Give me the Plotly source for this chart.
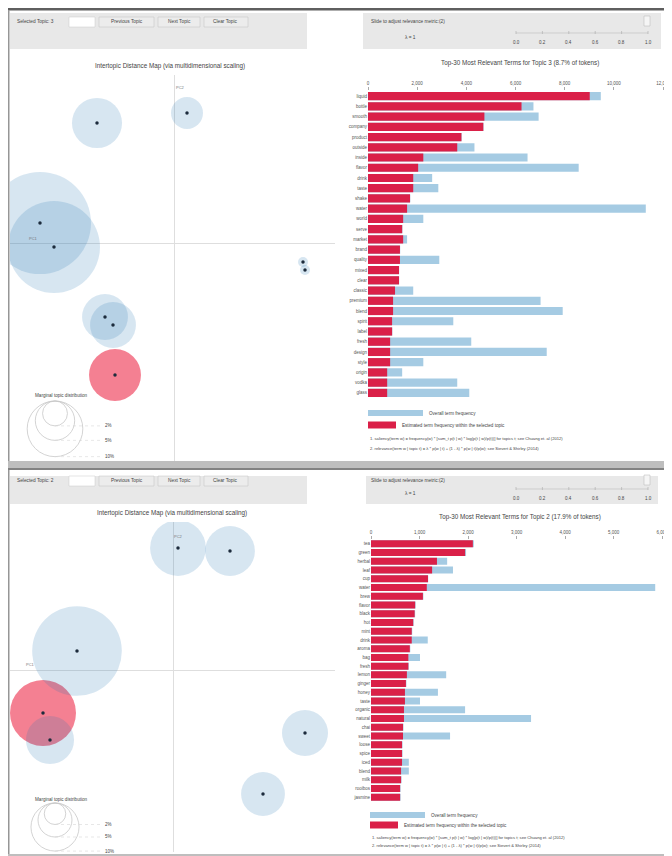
import plotly.graph_objects as go

# page is 672x856; the html body adds an 8px margin, so the figure is drawn 8px in
PAGE_W, PAGE_H = 672, 856
OFF = 8
W, H = PAGE_W - OFF, PAGE_H - OFF

# ---------------- data ----------------
top_terms = ["liquid", "bottle", "smooth", "company", "product", "outside", "inside", "flavor",
             "drink", "taste", "shake", "water", "world", "serve", "market", "brand", "quality",
             "mixed", "clear", "classic", "premium", "blend", "spirit", "label", "fresh", "design",
             "style", "origin", "vodka", "glass"]
top_topic_freq = [9020, 6245, 4735, 4690, 3800, 3630, 2250, 2040, 1840, 1840, 1710, 1590, 1430, 1390,
                  1430, 1300, 1300, 1260, 1260, 1100, 1020, 1020, 980, 980, 900, 900, 900, 780, 780, 780]
top_overall_freq = [9470, 6730, 6940, 4700, 3810, 4330, 6490, 8570, 2610, 2860, 1720, 11300, 2250, 1400,
                    1590, 1310, 2900, 1270, 1270, 1840, 7020, 7920, 3470, 990, 4200, 7270, 2250, 1390,
                    3630, 4120]
top_ticks = [0, 2000, 4000, 6000, 8000, 10000, 12000]

bot_terms = ["tea", "green", "herbal", "leaf", "cup", "water", "brew", "flavor", "black", "hot",
             "mint", "drink", "aroma", "bag", "fresh", "lemon", "ginger", "honey", "taste", "organic",
             "natural", "chai", "sweet", "loose", "spice", "iced", "blend", "milk", "rooibos", "jasmine"]
bot_topic_freq = [2100, 1940, 1360, 1260, 1175, 1150, 1070, 910, 900, 870, 840, 840, 800, 770, 770,
                  740, 720, 700, 700, 680, 680, 660, 660, 640, 640, 640, 620, 620, 600, 600]
bot_overall_freq = [2120, 1960, 1570, 1690, 1180, 5860, 1080, 920, 910, 880, 850, 1170, 810, 1010, 780,
                    1550, 730, 1380, 1010, 1940, 3300, 670, 1630, 650, 650, 780, 780, 630, 610, 610]
bot_ticks = [0, 1000, 2000, 3000, 4000, 5000, 6000]

# topic maps (PC1, PC2, share of tokens in %)
top_topics = [1, 2, 3, 4, 5, 6, 7, 8, 9]
top_pc1 = [-0.134, -0.120, -0.059, -0.077, -0.069, -0.061, 0.013, 0.129, 0.131]
top_pc2 = [0.020, -0.004, -0.132, 0.120, -0.074, -0.082, 0.130, -0.019, -0.027]
top_share = [33.6, 27.3, 8.7, 8.1, 6.8, 6.8, 3.3, 0.32, 0.32]
top_selected = 3

bot_topics = [1, 2, 3, 4, 5, 6, 7]
bot_pc1 = [-0.096, -0.130, 0.005, 0.057, -0.123, 0.132, 0.090]
bot_pc2 = [0.019, -0.043, 0.122, 0.119, -0.070, -0.063, -0.124]
bot_share = [33.0, 17.9, 12.8, 10.2, 9.5, 8.7, 7.9]
bot_selected = 2

legend_pcts = [2, 5, 10]
slider_ticks = ["0.0", "0.2", "0.4", "0.6", "0.8", "1.0"]

# ---------------- helpers (page pixel -> paper) ----------------
def fx(px):
    return (px - OFF) / W

def fy(py):
    return 1 - (py - OFF) / H

FONT = "Liberation Sans, Arial, sans-serif"
TXT = "#444444"
BLUE_BAR = "rgb(165,203,227)"
RED_BAR = "rgb(218,32,72)"
BLUE_CIRCLE = "rgba(31,119,180,0.26)"
RED_CIRCLE = "rgb(240,74,100)"

fig = go.Figure()
annotations = []
shapes = []


def text(x, y, s, size=5, anchor="left", color=TXT):
    annotations.append(dict(x=fx(x), y=fy(y), xref="paper", yref="paper", text=s, showarrow=False,
                            xanchor=anchor, yanchor="middle", font=dict(size=size, color=color, family=FONT)))


def rect(x0, y0, x1, y1, fill, line=None, lw=0):
    shapes.append(dict(type="rect", xref="paper", yref="paper", x0=fx(x0), x1=fx(x1), y0=fy(y1), y1=fy(y0),
                       fillcolor=fill, line=dict(color=line or fill, width=lw), layer="above"))


def line(x0, y0, x1, y1, color, w=1, dash="solid"):
    shapes.append(dict(type="line", xref="paper", yref="paper", x0=fx(x0), x1=fx(x1), y0=fy(y0), y1=fy(y1),
                       line=dict(color=color, width=w, dash=dash), layer="above"))


def topic_map(n, pcs1, pcs2, share, topics, selected, k, xdom, ydom, xr, yr):
    xa, ya = ("x" if n == 1 else f"x{n}"), ("y" if n == 1 else f"y{n}")
    sel = [i for i, t in enumerate(topics) if t == selected]
    oth = [i for i, t in enumerate(topics) if t != selected]
    size = lambda i: 2 * k * share[i] ** 0.5
    fig.add_trace(go.Scatter(x=[pcs1[i] for i in sel], y=[pcs2[i] for i in sel], mode="markers",
                             marker=dict(size=[size(i) for i in sel], color=RED_CIRCLE, line=dict(width=0)),
                             xaxis=xa, yaxis=ya, showlegend=False, hoverinfo="skip"))
    fig.add_trace(go.Scatter(x=[pcs1[i] for i in oth], y=[pcs2[i] for i in oth], mode="markers",
                             marker=dict(size=[size(i) for i in oth], color=BLUE_CIRCLE, line=dict(width=0)),
                             xaxis=xa, yaxis=ya, showlegend=False, hoverinfo="skip"))
    fig.add_trace(go.Scatter(x=pcs1, y=pcs2, mode="markers",
                             marker=dict(size=3.5, color="#1c2b3c"),
                             xaxis=xa, yaxis=ya, showlegend=False, hoverinfo="skip"))
    ax = dict(domain=xdom, range=xr, anchor=ya, showgrid=False, showticklabels=False, zeroline=True,
              zerolinecolor="rgb(222,222,222)", zerolinewidth=1, showline=False, fixedrange=True,
              automargin=False)
    ay = dict(domain=ydom, range=yr, anchor=xa, showgrid=False, showticklabels=False, zeroline=True,
              zerolinecolor="rgb(222,222,222)", zerolinewidth=1, showline=False, fixedrange=True,
              automargin=False)
    return ax, ay


def bars(n, terms, topic_f, overall_f, ticks, xdom, ydom, xmax):
    xa, ya = f"x{n}", f"y{n}"
    fig.add_trace(go.Bar(x=overall_f, y=terms, orientation="h", marker=dict(color=BLUE_BAR, line=dict(width=0)),
                         xaxis=xa, yaxis=ya, showlegend=False, hoverinfo="skip"))
    fig.add_trace(go.Bar(x=topic_f, y=terms, orientation="h", marker=dict(color=RED_BAR, line=dict(width=0)),
                         xaxis=xa, yaxis=ya, showlegend=False, hoverinfo="skip"))
    ax = dict(domain=xdom, range=[0, xmax], anchor=ya, side="top", tickvals=ticks,
              ticktext=[f"{t:,}" for t in ticks], tickfont=dict(size=4.5, color="#555", family=FONT),
              ticks="outside", ticklen=3, tickcolor="#aaa", showgrid=False, zeroline=False,
              showline=False, fixedrange=True, automargin=False)
    ay = dict(domain=ydom, autorange="reversed", type="category", anchor=xa,
              tickfont=dict(size=4.5, color="#555", family=FONT),
              ticks="", showgrid=False, zeroline=False, showline=False, fixedrange=True, automargin=False)
    return ax, ay


# ---------------- top screenshot ----------------
ax1, ay1 = topic_map(1, top_pc1, top_pc2, top_share, top_topics, top_selected, 8.8,
                     [fx(10), fx(335)], [fy(462), fy(75)], [-0.164, 0.161], [-0.219, 0.168])
ax2, ay2 = bars(2, top_terms, top_topic_freq, top_overall_freq, top_ticks,
                [fx(368), fx(663)], [fy(398), fy(91)], 12000)

# ---------------- bottom screenshot ----------------
ax3, ay3 = topic_map(3, bot_pc1, bot_pc2, bot_share, bot_topics, bot_selected, 7.8,
                     [fx(10), fx(335)], [fy(852), fy(522)], [-0.163, 0.162], [-0.182, 0.148])
ax4, ay4 = bars(4, bot_terms, bot_topic_freq, bot_overall_freq, bot_ticks,
                [fx(371), fx(662)], [fy(801.5), fy(539.5)], 6000)

# ---------- chrome / controls ----------
def controls(y0, y1, yl, sel_topic, lam_y, tick_y, right_x0, right_x1):
    rect(10, y0, 307, y1, "rgb(232,232,232)")
    rect(right_x0, y0, right_x1, y1, "rgb(232,232,232)")
    text(15, yl, f"Selected Topic: {sel_topic}", 4.8)
    rect(69, yl - 5, 95, yl + 5, "white", "rgb(200,200,200)", 0.5)
    for label, a, b in [("Previous Topic", 99, 154), ("Next Topic", 158, 200), ("Clear Topic", 204, 248)]:
        rect(a, yl - 5, b, yl + 5, "rgb(236,236,236)", "rgb(195,195,195)", 0.5)
        text((a + b) / 2, yl, label, 4.8, "center")
    text(369, yl, "Slide to adjust relevance metric:(2)", 4.8)
    text(410, lam_y, "λ = 1", 4.8, "center")
    line(516, lam_y - 5, 648, lam_y - 5, "rgb(205,205,205)", 1)
    for i, t in enumerate(slider_ticks):
        xx = 516 + i * 26.4
        line(xx, lam_y - 7, xx, lam_y - 4, "rgb(170,170,170)", 0.6)
        text(xx, tick_y, t, 4.5, "center")
    rect(644, yl - 6, 650, yl + 4, "rgb(245,245,245)", "rgb(180,180,180)", 0.5)


controls(13, 49, 22, 3, 38, 43, 363, 661)
controls(476, 504, 481, 2, 494, 498, 366, 658)

# titles
text(170, 66, "Intertopic Distance Map (via multidimensional scaling)", 6.3, "center")
text(520, 63, "Top-30 Most Relevant Terms for Topic 3 (8.7% of tokens)", 6.3, "center")
text(172, 513, "Intertopic Distance Map (via multidimensional scaling)", 6.3, "center")
text(520, 517, "Top-30 Most Relevant Terms for Topic 2 (17.9% of tokens)", 6.3, "center")

# PC labels
text(180, 87, "PC2", 4, "center", "#777")
text(33, 238, "PC1", 4, "center", "#777")
text(178, 536, "PC2", 4, "center", "#777")
text(30, 664, "PC1", 4, "center", "#777")

# marginal topic distribution legends
def marginal(top_y, k, title_y):
    text(33, title_y, "Marginal topic distribution", 4.6)
    cx = 55
    for p in legend_pcts:
        r = k * p ** 0.5
        shapes.append(dict(type="circle", xref="paper", yref="paper", x0=fx(cx - r), x1=fx(cx + r),
                           y0=fy(top_y + 2 * r), y1=fy(top_y), line=dict(color="rgb(200,200,200)", width=0.8),
                           fillcolor="rgba(0,0,0,0)", layer="above"))
        line(cx, top_y + 2 * r, 100, top_y + 2 * r, "rgb(215,215,215)", 0.6, "dot")
        text(103, top_y + 2 * r, f"{p}%", 4.5)


marginal(401, 8.8, 395)
marginal(803, 7.6, 799)

# bar legends + footnotes
def bar_legend(y_blue, y_red, y_n1, y_n2, x0):
    rect(x0, y_blue - 3, x0 + 55, y_blue + 3, BLUE_BAR)
    text(x0 + 59, y_blue, "Overall term frequency", 4.6)
    rect(x0, y_red - 3.5, x0 + 28, y_red + 3.5, RED_BAR)
    text(x0 + 32, y_red, "Estimated term frequency within the selected topic", 4.6)
    text(x0, y_n1, "1. saliency(term w) = frequency(w) * [sum_t p(t | w) * log(p(t | w)/p(t))] for topics t; see Chuang et. al (2012)", 4.1)
    text(x0, y_n2, "2. relevance(term w | topic t) = λ * p(w | t) + (1 - λ) * p(w | t)/p(w); see Sievert & Shirley (2014)", 4.1)


bar_legend(413, 425, 438, 448, 368)
bar_legend(815, 825, 837, 845, 370)

# frames
rect(0, 8, 672, 10.5, "rgb(95,95,95)")
rect(8, 10, 9.5, 462, "rgb(150,150,150)")
rect(0, 461, 672, 470, "rgb(190,190,190)")
rect(0, 468, 672, 470, "rgb(130,130,130)")
rect(8, 470, 9.5, 856, "rgb(150,150,150)")
rect(668, 10, 670, 461, "rgb(215,215,215)")
rect(668, 470, 670, 856, "rgb(215,215,215)")
rect(0, 854, 672, 856, "rgb(190,190,190)")

fig.update_layout(
    width=W, height=H, margin=dict(l=0, r=0, t=0, b=0, pad=0, autoexpand=False),
    paper_bgcolor="white", plot_bgcolor="rgba(0,0,0,0)",
    barmode="overlay", bargap=0.2, showlegend=False,
    xaxis=ax1, yaxis=ay1, xaxis2=ax2, yaxis2=ay2, xaxis3=ax3, yaxis3=ay3, xaxis4=ax4, yaxis4=ay4,
    annotations=annotations, shapes=shapes,
    font=dict(family=FONT, color=TXT),
)

fig.write_html("out.html")
